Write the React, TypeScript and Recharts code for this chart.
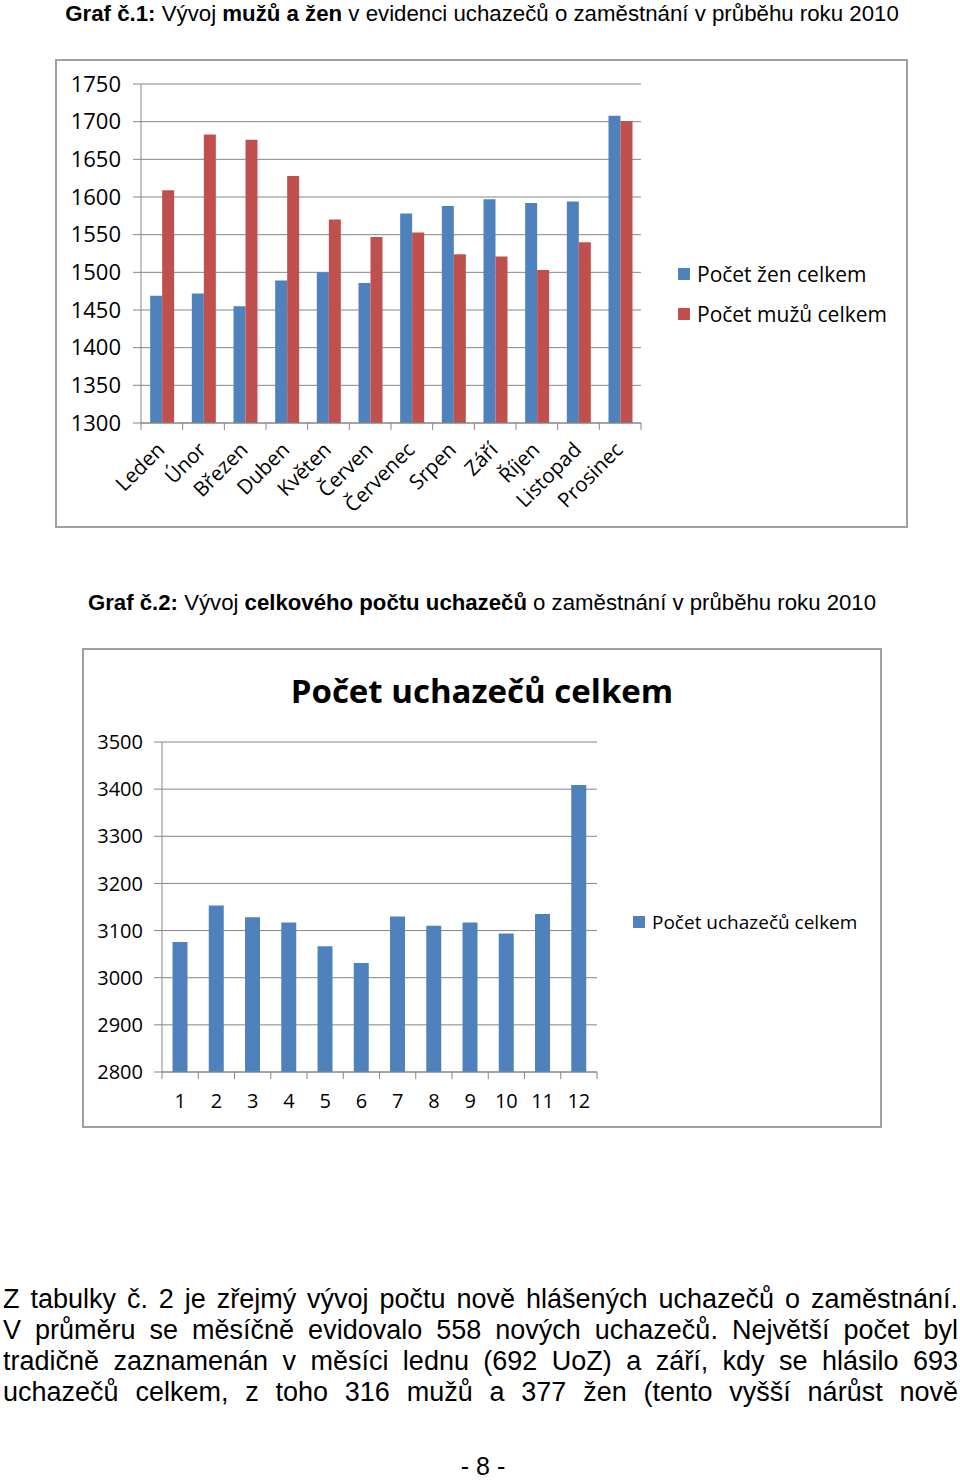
import React from "react";
import { BarChart, Bar, XAxis, YAxis, CartesianGrid, Legend } from "recharts";

const months = ["Leden", "Únor", "Březen", "Duben", "Květen", "Červen", "Červenec", "Srpen", "Září", "Říjen", "Listopad", "Prosinec"];
const zeny = [1469, 1472, 1455, 1489, 1500, 1486, 1578, 1588, 1597, 1592, 1594, 1708];
const muzi = [1609, 1683, 1676, 1628, 1570, 1547, 1553, 1524, 1521, 1503, 1540, 1701];
const ticks1 = [1300, 1350, 1400, 1450, 1500, 1550, 1600, 1650, 1700, 1750];

const monthNumbers = ["1", "2", "3", "4", "5", "6", "7", "8", "9", "10", "11", "12"];
const celkem = [3076, 3153, 3128, 3117, 3067, 3031, 3130, 3110, 3117, 3094, 3135, 3409];
const ticks2 = [2800, 2900, 3000, 3100, 3200, 3300, 3400, 3500];

const textLines = [
  "Z\u00a0tabulky č. 2 je zřejmý vývoj počtu nově hlášených uchazečů o zaměstnání.",
  "V\u00a0průměru se měsíčně evidovalo 558 nových uchazečů. Největší počet byl",
  "tradičně zaznamenán v\u00a0měsíci lednu (692 UoZ) a září, kdy se hlásilo 693",
  "uchazečů celkem, z\u00a0toho 316 mužů a 377 žen (tento vyšší nárůst nově",
];

const data1 = months.map((m, i) => ({ name: m, zeny: zeny[i], muzi: muzi[i] }));
const data2 = monthNumbers.map((m, i) => ({ name: m, celkem: celkem[i] }));
const seriesOrder = ["zeny", "muzi", "celkem"];

const BLUE = "#4F81BD";
const RED = "#C0504D";
const GRID = "#868686";
const CHART_FONT = "'Open Sans', sans-serif";
const DOC_FONT = "'Liberation Sans', Arial, sans-serif";

// category ticks sit between the bars, like Excel does it
const CategoryTick = (props: any) => {
  const { x, y, payload, index, width, visibleTicksCount, rotate, dy, fontSize } = props;
  const step = width / visibleTicksCount;
  const last = index === visibleTicksCount - 1;
  return (
    <g>
      <line x1={x - step / 2} x2={x - step / 2} y1={y} y2={y + 7} stroke={GRID} />
      {last && <line x1={x + step / 2} x2={x + step / 2} y1={y} y2={y + 7} stroke={GRID} />}
      {rotate ? (
        <text
          transform={`translate(${x + 4},${y + dy}) rotate(-45)`}
          textAnchor="end"
          fontSize={fontSize}
          fontFamily={CHART_FONT}
          fill="#000"
        >
          {payload.value}
        </text>
      ) : (
        <text x={x} y={y + dy} textAnchor="middle" fontSize={fontSize} fontFamily={CHART_FONT} fill="#000">
          {payload.value}
        </text>
      )}
    </g>
  );
};

const LegendList = ({ payload, gap, fontSize }: any) => {
  const items = [...(payload || [])].sort(
    (a: any, b: any) => seriesOrder.indexOf(a.dataKey) - seriesOrder.indexOf(b.dataKey)
  );
  return (
    <div style={{ fontFamily: CHART_FONT, fontSize, color: "#000" }}>
      {items.map((p: any) => (
        <div key={p.value} style={{ display: "flex", alignItems: "center", height: gap }}>
          <span style={{ display: "inline-block", width: 12, height: 12, background: p.color, marginRight: 7 }} />
          <span>{p.value}</span>
        </div>
      ))}
    </div>
  );
};

const boxStyle: React.CSSProperties = {
  position: "absolute",
  border: "2px solid #a0a0a0",
  background: "#fff",
};

export default function App() {
  return (
    <div style={{ position: "absolute", top: 0, left: 0, width: 960, height: 1481, background: "#fff", overflow: "hidden" }}>
      <div style={{ position: "absolute", top: 0, left: 0, width: 964, textAlign: "center", fontFamily: DOC_FONT, fontSize: 22.25, lineHeight: "28px" }}>
        <b>Graf č.1:</b> Vývoj <b>mužů a žen</b> v evidenci uchazečů o zaměstnání v průběhu roku 2010
      </div>

      <div style={{ ...boxStyle, left: 55, top: 59, width: 849, height: 465 }}>
        <BarChart width={849} height={465} data={data1} margin={{ top: 23, right: 265, left: 0, bottom: 0 }} barGap={0} barCategoryGap="22%">
          <CartesianGrid vertical={false} stroke={GRID} />
          <XAxis
            dataKey="name"
            height={103}
            interval={0}
            stroke={GRID}
            tickLine={false}
            tickSize={0}
            tickMargin={0}
            tick={<CategoryTick rotate dy={28} fontSize={20.5} />}
          />
          <YAxis
            width={84}
            domain={[1300, 1750]}
            ticks={ticks1}
            stroke={GRID}
            tickSize={8}
            tickMargin={12}
            tick={{ fill: "#000", fontSize: 22, fontFamily: CHART_FONT }}
          />
          <Legend
            layout="vertical"
            align="center"
            verticalAlign="middle"
            wrapperStyle={{ left: 621, top: 193, width: 240 }}
            content={<LegendList gap={40} fontSize={21} />}
          />
          <Bar dataKey="zeny" name="Počet žen celkem" fill={BLUE} isAnimationActive={false} />
          <Bar dataKey="muzi" name="Počet mužů celkem" fill={RED} isAnimationActive={false} />
        </BarChart>
      </div>

      <div style={{ position: "absolute", top: 589, left: 0, width: 964, textAlign: "center", fontFamily: DOC_FONT, fontSize: 22.2, lineHeight: "28px" }}>
        <b>Graf č.2:</b> Vývoj <b>celkového počtu uchazečů</b> o zaměstnání v průběhu roku 2010
      </div>

      <div style={{ ...boxStyle, left: 82, top: 648, width: 796, height: 476 }}>
        <div style={{ position: "absolute", top: 20, left: 0, width: 796, textAlign: "center", fontFamily: CHART_FONT, fontWeight: 700, fontSize: 33, lineHeight: "42px" }}>
          Počet uchazečů celkem
        </div>
        <BarChart width={796} height={476} data={data2} margin={{ top: 92, right: 283, left: 0, bottom: 0 }} barCategoryGap="29%">
          <CartesianGrid vertical={false} stroke={GRID} />
          <XAxis
            dataKey="name"
            height={54}
            interval={0}
            stroke={GRID}
            tickLine={false}
            tickSize={0}
            tickMargin={0}
            tick={<CategoryTick dy={36} fontSize={20} />}
          />
          <YAxis
            width={78}
            domain={[2800, 3500]}
            ticks={ticks2}
            stroke={GRID}
            tickSize={8}
            tickMargin={11}
            tick={{ fill: "#000", fontSize: 20, fontFamily: CHART_FONT }}
          />
          <Legend
            layout="vertical"
            align="center"
            verticalAlign="middle"
            wrapperStyle={{ left: 549, top: 257, width: 240 }}
            content={<LegendList gap={30} fontSize={19} />}
          />
          <Bar dataKey="celkem" name="Počet uchazečů celkem" fill={BLUE} isAnimationActive={false} />
        </BarChart>
      </div>

      <div style={{ position: "absolute", top: 1284, left: 3, width: 955, fontFamily: DOC_FONT, fontSize: 27, lineHeight: "31px", color: "#000" }}>
        {textLines.map((line) => (
          <div key={line} style={{ textAlign: "justify", textAlignLast: "justify" }}>
            {line}
          </div>
        ))}
      </div>

      <div style={{ position: "absolute", top: 1456, left: 0, width: 966, textAlign: "center", fontFamily: DOC_FONT, fontSize: 25, lineHeight: "20px" }}>
        - 8 -
      </div>
    </div>
  );
}
